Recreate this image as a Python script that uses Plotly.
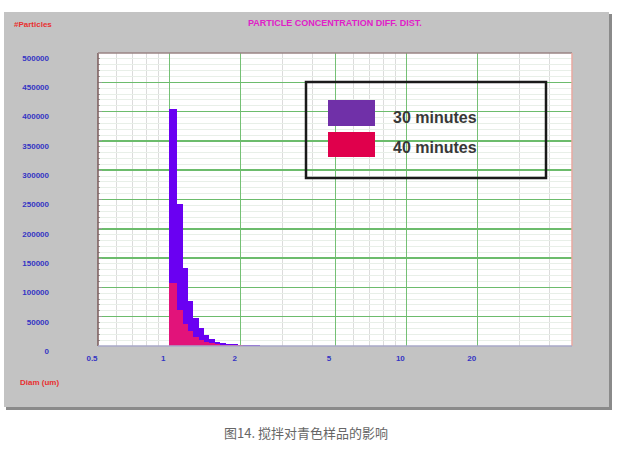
import plotly.graph_objects as go

# ---------------- data ----------------
bin_edges_um = [1.00, 1.08, 1.14, 1.20, 1.26, 1.34, 1.40, 1.47, 1.56, 1.64,
                1.74, 1.84, 1.94, 2.05, 2.16, 2.29, 2.41, 2.55, 2.69, 2.85,
                3.01, 3.18, 3.36, 3.55, 3.75, 3.96, 4.20, 4.40, 4.70, 4.95]
conc_30min = [404000, 243000, 133000, 77000, 47500, 30000, 19000, 12000, 7500,
              5200, 3800, 2800, 2000, 1500, 1200, 1000, 800, 700, 600, 600,
              500, 500, 400, 400, 300, 300, 250, 250, 200]
conc_40min = [107000, 62000, 37000, 26000, 16000, 10500, 7000, 5000, 3500,
              2500, 1800, 1300, 1000, 800, 600, 500, 400, 350, 300, 250,
              200, 200, 150, 150, 100, 100, 100, 100, 100]
series_names = ["30 minutes", "40 minutes"]
x_tick_vals = [0.5, 1, 2, 5, 10, 20]
x_tick_text = ["0.5", "1", "2", "5", "10", "20"]
x_minor_vals = [0.6, 0.7, 0.8, 0.9, 3, 4, 6, 7, 8, 9, 30, 40]
title_text = "PARTICLE CONCENTRATION DIFF. DIST."
y_title_text = "#Particles"
x_title_text = "Diam (um)"
caption_text = "图14. 搅拌对青色样品的影响"

# ---------------- layout helpers ----------------
W, H = 617, 452
PL, PR, PT, PB = 98, 572, 53, 346   # plot area in pixels


def px(x):
    return (x - PL) / (PR - PL)


def py(y):
    return (PB - y) / (PB - PT)


centers = [(a + b) / 2 for a, b in zip(bin_edges_um[:-1], bin_edges_um[1:])]
widths = [b - a for a, b in zip(bin_edges_um[:-1], bin_edges_um[1:])]
n = min(len(centers), len(conc_30min), len(conc_40min))

fig = go.Figure()
fig.add_trace(go.Bar(x=centers[:n], y=conc_30min[:n], width=widths[:n],
                     name=series_names[0], marker=dict(color="#6a00f2", line=dict(width=0)),
                     showlegend=False))
fig.add_trace(go.Bar(x=centers[:n], y=conc_40min[:n], width=widths[:n],
                     name=series_names[1], marker=dict(color="#e2137a", line=dict(width=0)),
                     showlegend=False))

tickfont = dict(family="Liberation Sans, Arial", size=8, color="#3434c4", weight="bold")

fig.update_layout(
    width=W, height=H,
    margin=dict(l=PL, r=W - PR, t=PT, b=H - PB, pad=0),
    paper_bgcolor="white",
    plot_bgcolor="rgba(0,0,0,0)",
    barmode="overlay",
    bargap=0,
    xaxis=dict(
        type="log", range=[-0.30103, 1.69897],
        tickmode="array", tickvals=x_tick_vals, ticktext=x_tick_text,
        showgrid=True, gridcolor="#74c074", gridwidth=1,
        minor=dict(tickmode="array", tickvals=x_minor_vals, showgrid=True,
                   gridcolor="#dcdcdc", gridwidth=1),
        ticks="", showline=False, zeroline=False,
        tickfont=tickfont, ticklabelstandoff=6, ticklabelshift=-6,
        fixedrange=True,
    ),
    yaxis=dict(
        range=[0, 500000], dtick=50000, tick0=0,
        showgrid=True, gridcolor="#6cbc6c", gridwidth=1.5,
        minor=dict(dtick=10000, showgrid=True, gridcolor="#e8efe8", gridwidth=1,
                   ticks="inside", ticklen=2, tickcolor="#9a9a9a"),
        ticks="inside", ticklen=4, tickcolor="#9a9a9a",
        showline=False, zeroline=False,
        tickfont=tickfont, ticklabelstandoff=48, ticklabelshift=5,
        tickformat="d",
        fixedrange=True,
    ),
)

shapes = []
# gray panel with darker shadow edge
shapes.append(dict(type="rect", xref="paper", yref="paper", layer="below",
                   x0=px(6), x1=px(612), y0=py(410), y1=py(14),
                   fillcolor="#8a8a8a", line=dict(width=0)))
shapes.append(dict(type="rect", xref="paper", yref="paper", layer="below",
                   x0=px(4), x1=px(609), y0=py(407), y1=py(12),
                   fillcolor="#c3c3c3", line=dict(width=0)))
# white plot area
shapes.append(dict(type="rect", xref="paper", yref="paper", layer="below",
                   x0=0, x1=1, y0=0, y1=1, fillcolor="white", line=dict(width=0)))
# plot border (different colours per side)
shapes.append(dict(type="line", xref="paper", yref="paper", x0=0, x1=0, y0=0, y1=1,
                   line=dict(color="#7a5a5a", width=1.5)))
shapes.append(dict(type="line", xref="paper", yref="paper", x0=0, x1=1, y0=1, y1=1,
                   line=dict(color="#9a8585", width=1.5)))
shapes.append(dict(type="line", xref="paper", yref="paper", x0=1, x1=1, y0=0, y1=1,
                   line=dict(color="#e8a8a0", width=1.5)))
shapes.append(dict(type="line", xref="paper", yref="paper", x0=0, x1=1, y0=0, y1=0,
                   line=dict(color="#a8a8c8", width=1.5)))
# legend box and swatches
shapes.append(dict(type="rect", xref="paper", yref="paper",
                   x0=px(306), x1=px(546), y0=py(178), y1=py(82),
                   line=dict(color="#1a1a1a", width=2.5), fillcolor="rgba(0,0,0,0)"))
shapes.append(dict(type="rect", xref="paper", yref="paper",
                   x0=px(328), x1=px(375), y0=py(126), y1=py(100),
                   line=dict(width=0), fillcolor="#7030a8"))
shapes.append(dict(type="rect", xref="paper", yref="paper",
                   x0=px(328), x1=px(375), y0=py(157), y1=py(132),
                   line=dict(width=0), fillcolor="#e0004c"))

legend_font = dict(family="Liberation Sans, Arial", size=16, color="#383838", weight="bold")
annotations = [
    dict(text=series_names[0], x=px(391), y=py(117), xanchor="left", yanchor="middle",
         font=legend_font),
    dict(text=series_names[1], x=px(391), y=py(147), xanchor="left", yanchor="middle",
         font=legend_font),
    dict(text=title_text, x=px(335), y=py(23), xanchor="center", yanchor="middle",
         font=dict(family="Liberation Sans, Arial", size=9, color="#e020c8", weight="bold")),
    dict(text=y_title_text, x=px(12), y=py(25), xanchor="left", yanchor="middle",
         font=dict(family="Liberation Sans, Arial", size=8, color="#e83030", weight="bold")),
    dict(text=x_title_text, x=px(18), y=py(383), xanchor="left", yanchor="middle",
         font=dict(family="Liberation Sans, Arial", size=8, color="#e83030", weight="bold")),
    dict(text=caption_text, x=px(306), y=py(432), xanchor="center", yanchor="middle",
         font=dict(family="Noto Sans CJK SC", size=13, color="#666666")),
]
for a in annotations:
    a.update(xref="paper", yref="paper", showarrow=False)

fig.update_layout(shapes=shapes, annotations=annotations)
fig.write_html("out.html",
               config={"displayModeBar": False, "staticPlot": True},
               post_script="document.body.style.margin='0px';document.body.style.overflow='hidden';")
